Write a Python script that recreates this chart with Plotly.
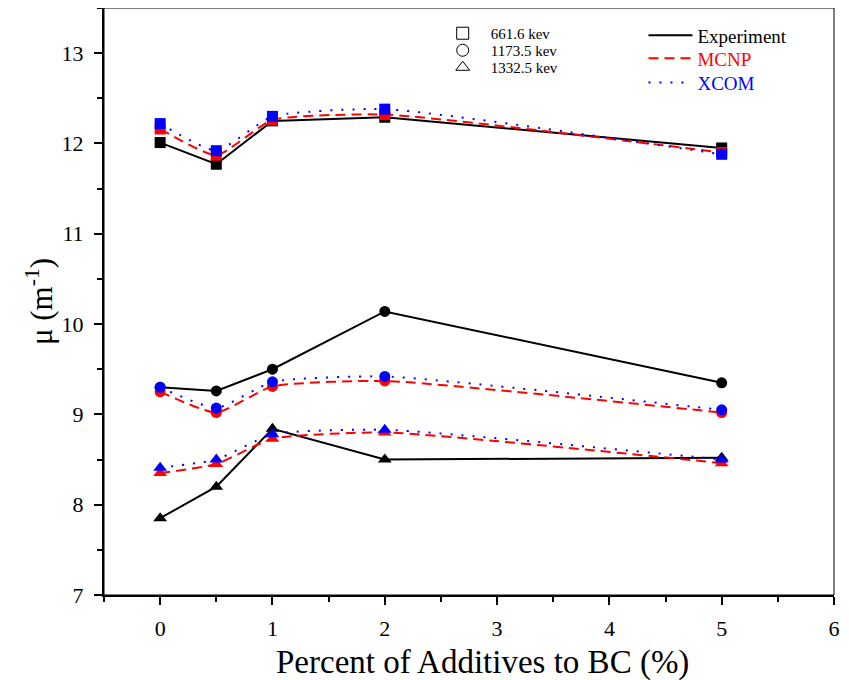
import plotly.graph_objects as go

# ---- data ----
additive_pct = [0, 0.5, 1, 2, 5]

exp_661 = [12.01, 11.77, 12.25, 12.29, 11.95]
mcnp_661 = [12.16, 11.87, 12.26, 12.32, 11.90]
xcom_661 = [12.22, 11.92, 12.30, 12.38, 11.88]

exp_1173 = [9.30, 9.26, 9.50, 10.14, 9.35]
mcnp_1173 = [9.25, 9.02, 9.31, 9.37, 9.02]
xcom_1173 = [9.30, 9.07, 9.36, 9.42, 9.05]

exp_1332 = [7.85, 8.20, 8.84, 8.50, 8.52]
mcnp_1332 = [8.35, 8.45, 8.73, 8.80, 8.46]
xcom_1332 = [8.41, 8.50, 8.78, 8.83, 8.50]

energy_labels = ["661.6 kev", "1173.5 kev", "1332.5 kev"]
method_labels = ["Experiment", "MCNP", "XCOM"]

x_ticks = [0, 1, 2, 3, 4, 5, 6]
y_ticks = [7, 8, 9, 10, 11, 12, 13]

x_title = "Percent of Additives to BC (%)"
y_title = "μ (m<sup>-1</sup>)"

# ---- styles ----
FONT = "Liberation Serif"
colors = {"Experiment": "#000000", "MCNP": "#FF0000", "XCOM": "#0000FF"}
dashes = {"Experiment": "solid", "MCNP": "10px,6px", "XCOM": "2px,9px"}
shapes_ = {"Experiment": "linear", "MCNP": "spline", "XCOM": "spline"}
symbols = ["square", "circle", "triangle-up"]
sizes = [11, 11, 12]

series = [
    (exp_661, mcnp_661, xcom_661),
    (exp_1173, mcnp_1173, xcom_1173),
    (exp_1332, mcnp_1332, xcom_1332),
]

# one legend box per entry so the row spacing can follow the reference
energy_legends = ["legend", "legend3", "legend4"]
energy_legend_y = [0.9847, 0.9557, 0.9267]
method_legends = ["legend2", "legend5", "legend6"]
method_legend_y = [0.9855, 0.9463, 0.9054]

fig = go.Figure()

for method_idx, method in enumerate(method_labels):
    for e_idx, trip in enumerate(series):
        fig.add_trace(go.Scatter(
            x=additive_pct, y=trip[method_idx],
            mode="lines+markers",
            line=dict(color=colors[method], width=2, dash=dashes[method],
                      shape=shapes_[method], smoothing=0.5),
            marker=dict(symbol=symbols[e_idx], size=sizes[e_idx],
                        color=colors[method], line=dict(width=0)),
            showlegend=False, hoverinfo="x+y",
        ))

# energy legend: open symbols
for e_idx, lab in enumerate(energy_labels):
    fig.add_trace(go.Scatter(
        x=[None], y=[None], mode="markers", name=lab,
        marker=dict(symbol=symbols[e_idx] + "-open", size=12, color="black",
                    line=dict(width=1, color="black")),
        legend=energy_legends[e_idx],
    ))

# method legend: lines, labels coloured like their lines
for m_idx, method in enumerate(method_labels):
    fig.add_trace(go.Scatter(
        x=[None], y=[None], mode="lines",
        name=f"<span style='color:{colors[method]}'>{method}</span>",
        line=dict(color=colors[method], width=2, dash=dashes[method]),
        legend=method_legends[m_idx],
    ))

legend_layout = {}
for name, yv in zip(energy_legends, energy_legend_y):
    legend_layout[name] = dict(
        x=0.453, y=yv, xanchor="left", yanchor="top",
        bgcolor="rgba(0,0,0,0)", font=dict(size=15, family=FONT, color="black"),
        itemwidth=46,
    )
for name, yv in zip(method_legends, method_legend_y):
    legend_layout[name] = dict(
        x=0.739, y=yv, xanchor="left", yanchor="top",
        bgcolor="rgba(0,0,0,0)", font=dict(size=19, family=FONT, color="black"),
        itemwidth=44,
    )

fig.update_layout(
    width=849, height=680,
    margin=dict(l=96, r=23, t=0, b=93, autoexpand=False),
    plot_bgcolor="white", paper_bgcolor="white",
    font=dict(family=FONT, color="black"),
    shapes=[dict(type="rect", xref="paper", yref="paper", x0=0, y0=0, x1=1, y1=1,
                 line=dict(color="black", width=1), layer="above")],
    annotations=[dict(text=x_title, xref="paper", yref="paper", x=0.519, y=-0.1158,
                      xanchor="center", yanchor="middle", showarrow=False,
                      font=dict(size=33, family=FONT, color="black"))],
    **legend_layout,
)

fig.update_xaxes(
    range=[-0.5, 6], tickvals=x_ticks, ticktext=[str(v) for v in x_ticks],
    showgrid=False, zeroline=False, automargin=False,
    showline=True, linecolor="black", linewidth=2,
    ticks="outside", ticklen=8, tickwidth=2, tickcolor="black",
    minor=dict(dtick=0.5, tick0=0, ticks="outside", ticklen=5, tickwidth=1.5, tickcolor="black"),
    tickfont=dict(size=22, family=FONT), ticklabelstandoff=5,
)
fig.update_yaxes(
    range=[7, 13.5], tickvals=y_ticks, ticktext=[str(v) for v in y_ticks],
    showgrid=False, zeroline=False, automargin=False,
    showline=True, linecolor="black", linewidth=2,
    ticks="outside", ticklen=8, tickwidth=2, tickcolor="black",
    minor=dict(dtick=0.5, tick0=7, ticks="outside", ticklen=5, tickwidth=1.5, tickcolor="black"),
    tickfont=dict(size=22, family=FONT), ticklabelstandoff=6,
    title=dict(text=y_title, font=dict(size=31, family=FONT), standoff=0),
)

fig.write_html("out.html")
